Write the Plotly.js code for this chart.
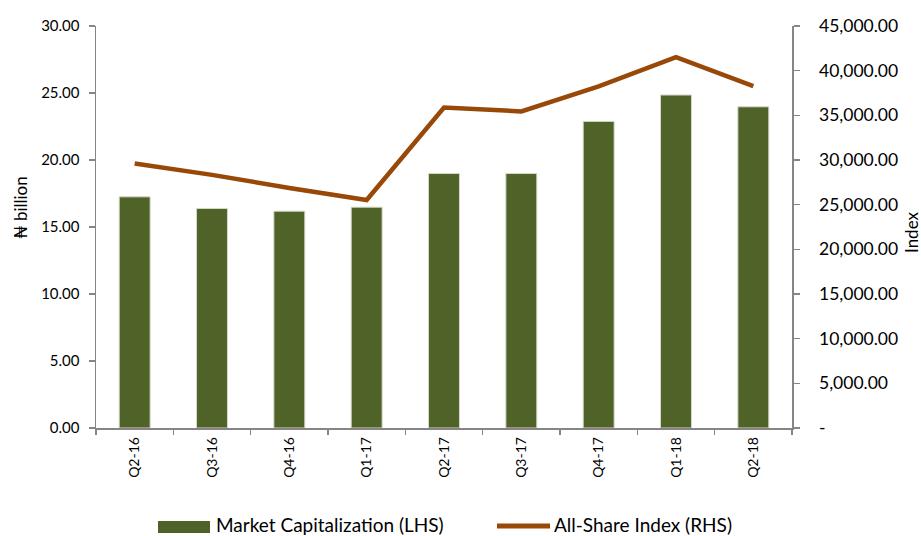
<!DOCTYPE html>
<html>
<head>
<meta charset="utf-8">
<script src="https://cdn.plot.ly/plotly-3.0.1.min.js"></script>
<style>
  html, body { margin: 0; padding: 0; background: #ffffff; }
  #chart { width: 921px; height: 536px; }
</style>
</head>
<body>
<div id="chart"></div>
<script>
// ---- Data ----
const quarters = ["Q2-16", "Q3-16", "Q4-16", "Q1-17", "Q2-17", "Q3-17", "Q4-17", "Q1-18", "Q2-18"];
const marketCap = [17.25, 16.38, 16.18, 16.48, 18.99, 18.99, 22.88, 24.85, 23.97];   // N billion (LHS)
const allShareIndex = [29597, 28335, 26875, 25516, 35880, 35440, 38243, 41505, 38278]; // Index (RHS)
const leftTicks = [0, 5, 10, 15, 20, 25, 30];
const rightTicks = [0, 5000, 10000, 15000, 20000, 25000, 30000, 35000, 40000, 45000];
const rightTickText = ["-", "5,000.00", "10,000.00", "15,000.00", "20,000.00", "25,000.00", "30,000.00", "35,000.00", "40,000.00", "45,000.00"];

// ---- Layout geometry ----
const W = 921, H = 536;
const M = { l: 96, r: 129, t: 26, b: 108 };
const PW = W - M.l - M.r, PH = H - M.t - M.b;
const px = x => (x - M.l) / PW;          // pixel -> paper x
const py = y => (H - M.b - y) / PH;      // pixel -> paper y

const FONT = "Lato, 'Liberation Sans', Arial, sans-serif";
const BAR_COLOR = "#4F6228";
const LINE_COLOR = "#984807";
const AXIS_COLOR = "#868686";

const traces = [
  {
    type: "bar",
    name: "Market Capitalization (LHS)",
    x: quarters,
    y: marketCap,
    marker: { color: BAR_COLOR, line: { color: "#d3d9c8", width: 1 } },
    yaxis: "y",
    hoverinfo: "x+y"
  },
  {
    type: "scatter",
    mode: "lines",
    name: "All-Share Index (RHS)",
    x: quarters,
    y: allShareIndex,
    line: { color: LINE_COLOR, width: 4.5 },
    yaxis: "y2",
    hoverinfo: "x+y"
  }
];

const layout = {
  width: W, height: H,
  margin: M,
  paper_bgcolor: "#ffffff",
  plot_bgcolor: "#ffffff",
  showlegend: false,
  bargap: 0.6,
  font: { family: FONT, color: "#000000" },
  xaxis: {
    type: "category",
    range: [-0.5, quarters.length - 0.5],
    showline: true, linecolor: AXIS_COLOR, linewidth: 1.5,
    ticks: "outside", tickson: "boundaries", ticklen: 5, tickcolor: AXIS_COLOR, tickwidth: 1.5,
    tickangle: -90,
    ticklabelstandoff: 2,
    tickfont: { family: FONT, size: 14, color: "#000000" },
    showgrid: false, zeroline: false
  },
  yaxis: {
    range: [0, 30],
    tickvals: leftTicks,
    tickformat: ".2f",
    showline: true, linecolor: AXIS_COLOR, linewidth: 1.5,
    ticks: "outside", ticklen: 6, tickcolor: AXIS_COLOR, tickwidth: 1.5,
    ticklabelstandoff: 6,
    tickfont: { family: FONT, size: 15, color: "#000000" },
    showgrid: false, zeroline: false
  },
  yaxis2: {
    range: [0, 45000],
    overlaying: "y",
    side: "right",
    tickvals: rightTicks,
    ticktext: rightTickText,
    showline: true, linecolor: AXIS_COLOR, linewidth: 1.5,
    ticks: "outside", ticklen: 6, tickcolor: AXIS_COLOR, tickwidth: 1.5,
    ticklabelstandoff: 16,
    tickfont: { family: FONT, size: 17.5, color: "#000000" },
    showgrid: false, zeroline: false
  },
  shapes: [
    { type: "rect", xref: "paper", yref: "paper",
      x0: px(158), x1: px(210), y0: py(533), y1: py(521),
      fillcolor: BAR_COLOR, line: { width: 0 } },
    { type: "line", xref: "paper", yref: "paper",
      x0: px(497), x1: px(550), y0: py(526), y1: py(526),
      line: { color: LINE_COLOR, width: 5 } }
  ],
  annotations: [
    { text: "₦ billion", xref: "paper", yref: "paper", x: px(20), y: py(208),
      textangle: -90, showarrow: false, xanchor: "center", yanchor: "middle",
      font: { family: FONT, size: 17, color: "#000000" } },
    { text: "Index", xref: "paper", yref: "paper", x: px(911), y: py(232),
      textangle: -90, showarrow: false, xanchor: "center", yanchor: "middle",
      font: { family: FONT, size: 17, color: "#000000" } },
    { text: "Market Capitalization (LHS)", xref: "paper", yref: "paper", x: px(215), y: py(524),
      showarrow: false, xanchor: "left", yanchor: "middle", borderpad: 0,
      font: { family: FONT, size: 19, color: "#000000" } },
    { text: "All-Share Index (RHS)", xref: "paper", yref: "paper", x: px(553), y: py(524),
      showarrow: false, xanchor: "left", yanchor: "middle", borderpad: 0,
      font: { family: FONT, size: 19, color: "#000000" } }
  ]
};

Plotly.newPlot("chart", traces, layout, { displayModeBar: false, staticPlot: true });
</script>
</body>
</html>
